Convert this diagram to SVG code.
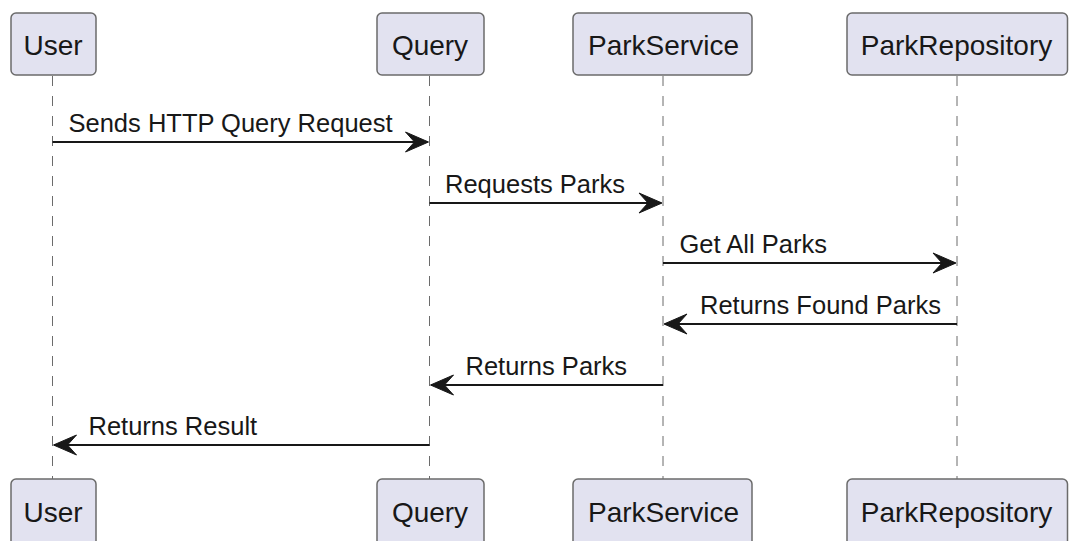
<svg xmlns="http://www.w3.org/2000/svg" width="1069" height="541" viewBox="0 0 1069 541">
<style>
.box{fill:#E2E2F0;stroke:#6b6b6b;stroke-width:1.5}
.pt{font-family:"Liberation Sans",Arial,sans-serif;font-size:28px;fill:#181818;text-anchor:middle}
.life{stroke:#6b6b6b;stroke-width:1;stroke-dasharray:10,10;fill:none}
.msg{stroke:#181818;stroke-width:2;fill:none}
.mt{font-family:"Liberation Sans",Arial,sans-serif;font-size:25.5px;fill:#181818}
.head{fill:#181818;stroke:#181818;stroke-width:1;stroke-linejoin:miter}
</style>
<defs>
<polygon id="ah" class="head" points="0,0 -23,-10 -14,0 -23,10"/>
</defs>
<rect width="1069" height="541" fill="#FFFFFF"/>
<g id="lifelines">
<line class="life" x1="52.5" y1="76" x2="52.5" y2="479"/>
<line class="life" x1="429.5" y1="76" x2="429.5" y2="479"/>
<line class="life" x1="663" y1="76" x2="663" y2="479"/>
<line class="life" x1="957" y1="76" x2="957" y2="479"/>
</g>
<g id="User">
<rect class="box" x="11" y="13" width="85" height="62" rx="5"/>
<text class="pt" x="53" y="55">User</text>
<rect class="box" x="11" y="479" width="85" height="70" rx="5"/>
<text class="pt" x="53" y="521.5">User</text>
</g>
<g id="Query">
<rect class="box" x="377" y="13" width="107" height="62" rx="5"/>
<text class="pt" x="430" y="55">Query</text>
<rect class="box" x="377" y="479" width="107" height="70" rx="5"/>
<text class="pt" x="430" y="521.5">Query</text>
</g>
<g id="ParkService">
<rect class="box" x="573" y="13" width="179" height="62" rx="5"/>
<text class="pt" x="663.5" y="55">ParkService</text>
<rect class="box" x="573" y="479" width="179" height="70" rx="5"/>
<text class="pt" x="663.5" y="521.5">ParkService</text>
</g>
<g id="ParkRepository">
<rect class="box" x="847" y="13" width="220.5" height="62" rx="5"/>
<text class="pt" x="956.5" y="55">ParkRepository</text>
<rect class="box" x="847" y="479" width="220.5" height="70" rx="5"/>
<text class="pt" x="956.5" y="521.5">ParkRepository</text>
</g>
<g id="connectors">
<line class="msg" x1="52.5" y1="142" x2="427" y2="142"/>
<use href="#ah" transform="translate(428.5,142)"/>
<text class="mt" x="68.5" y="132">Sends HTTP Query Request</text>

<line class="msg" x1="429.5" y1="203" x2="661" y2="203"/>
<use href="#ah" transform="translate(662,203)"/>
<text class="mt" x="445" y="193">Requests Parks</text>

<line class="msg" x1="663" y1="263" x2="955" y2="263"/>
<use href="#ah" transform="translate(956,263)"/>
<text class="mt" x="679.5" y="253">Get All Parks</text>

<line class="msg" x1="957" y1="324" x2="665" y2="324"/>
<use href="#ah" transform="translate(664,324) scale(-1,1)"/>
<text class="mt" x="700" y="314">Returns Found Parks</text>

<line class="msg" x1="663" y1="385" x2="431" y2="385"/>
<use href="#ah" transform="translate(430.5,385) scale(-1,1)"/>
<text class="mt" x="465.5" y="375">Returns Parks</text>

<line class="msg" x1="429.5" y1="445" x2="54" y2="445"/>
<use href="#ah" transform="translate(53.5,445) scale(-1,1)"/>
<text class="mt" x="88.5" y="435">Returns Result</text>
</g>
</svg>
